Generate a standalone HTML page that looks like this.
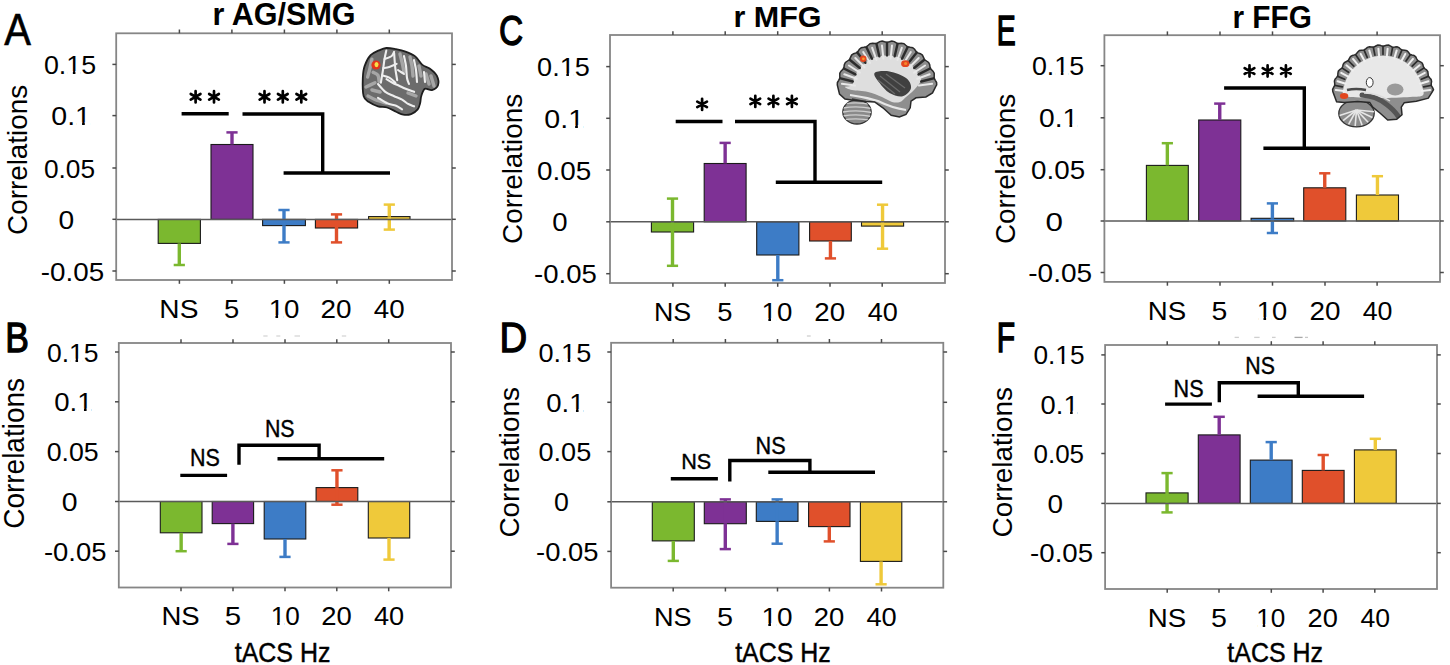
<!DOCTYPE html>
<html><head><meta charset="utf-8"><title>figure</title>
<style>
html,body{margin:0;padding:0;background:#fff;width:1450px;height:665px;overflow:hidden}
svg{display:block}
text{font-family:"Liberation Sans", sans-serif;stroke:#000;stroke-width:0px}
</style></head><body>
<svg width="1450" height="665" viewBox="0 0 1450 665">
<rect width="1450" height="665" fill="#fff"/>
<rect x="158.2" y="219.4" width="42.2" height="24" fill="#7bb82f" stroke="#1a1a1a" stroke-width="1.1"/>
<line x1="179.3" y1="243.4" x2="179.3" y2="265" stroke="#7bb82f" stroke-width="3.4" stroke-linecap="butt"/>
<line x1="173.7" y1="265" x2="184.9" y2="265" stroke="#7bb82f" stroke-width="2.5" stroke-linecap="butt"/>
<rect x="211" y="144.5" width="42" height="74.9" fill="#7e3195" stroke="#1a1a1a" stroke-width="1.1"/>
<line x1="232" y1="144.5" x2="232" y2="132.4" stroke="#7e3195" stroke-width="3.4" stroke-linecap="butt"/>
<line x1="226.4" y1="132.4" x2="237.6" y2="132.4" stroke="#7e3195" stroke-width="2.5" stroke-linecap="butt"/>
<rect x="262.6" y="219.4" width="42.8" height="6.2" fill="#3d7cc6" stroke="#1a1a1a" stroke-width="1.1"/>
<line x1="284" y1="225.6" x2="284" y2="210" stroke="#3d7cc6" stroke-width="3.4" stroke-linecap="butt"/>
<line x1="278.4" y1="210" x2="289.6" y2="210" stroke="#3d7cc6" stroke-width="2.5" stroke-linecap="butt"/>
<line x1="284" y1="225.6" x2="284" y2="242.4" stroke="#3d7cc6" stroke-width="3.4" stroke-linecap="butt"/>
<line x1="278.4" y1="242.4" x2="289.6" y2="242.4" stroke="#3d7cc6" stroke-width="2.5" stroke-linecap="butt"/>
<rect x="315.4" y="219.4" width="42.2" height="8.6" fill="#e0502b" stroke="#1a1a1a" stroke-width="1.1"/>
<line x1="336.5" y1="228" x2="336.5" y2="214.4" stroke="#e0502b" stroke-width="3.4" stroke-linecap="butt"/>
<line x1="330.9" y1="214.4" x2="342.1" y2="214.4" stroke="#e0502b" stroke-width="2.5" stroke-linecap="butt"/>
<line x1="336.5" y1="228" x2="336.5" y2="242.4" stroke="#e0502b" stroke-width="3.4" stroke-linecap="butt"/>
<line x1="330.9" y1="242.4" x2="342.1" y2="242.4" stroke="#e0502b" stroke-width="2.5" stroke-linecap="butt"/>
<rect x="368.6" y="216.6" width="41.4" height="2.8" fill="#efc93a" stroke="#1a1a1a" stroke-width="1.1"/>
<line x1="389.3" y1="216.6" x2="389.3" y2="204.6" stroke="#efc93a" stroke-width="3.4" stroke-linecap="butt"/>
<line x1="383.7" y1="204.6" x2="394.9" y2="204.6" stroke="#efc93a" stroke-width="2.5" stroke-linecap="butt"/>
<line x1="389.3" y1="216.6" x2="389.3" y2="229.6" stroke="#efc93a" stroke-width="3.4" stroke-linecap="butt"/>
<line x1="383.7" y1="229.6" x2="394.9" y2="229.6" stroke="#efc93a" stroke-width="2.5" stroke-linecap="butt"/>
<line x1="116.2" y1="219.4" x2="452" y2="219.4" stroke="#5a5a5a" stroke-width="1.5" stroke-linecap="butt"/>
<rect x="116.2" y="33.3" width="335.8" height="246.7" fill="none" stroke="#868686" stroke-width="1.8"/>
<line x1="179.4" y1="33.3" x2="179.4" y2="29.5" stroke="#4a4a4a" stroke-width="1.5" stroke-linecap="butt"/>
<line x1="179.4" y1="280" x2="179.4" y2="283.8" stroke="#4a4a4a" stroke-width="1.5" stroke-linecap="butt"/>
<line x1="231.9" y1="33.3" x2="231.9" y2="29.5" stroke="#4a4a4a" stroke-width="1.5" stroke-linecap="butt"/>
<line x1="231.9" y1="280" x2="231.9" y2="283.8" stroke="#4a4a4a" stroke-width="1.5" stroke-linecap="butt"/>
<line x1="284.4" y1="33.3" x2="284.4" y2="29.5" stroke="#4a4a4a" stroke-width="1.5" stroke-linecap="butt"/>
<line x1="284.4" y1="280" x2="284.4" y2="283.8" stroke="#4a4a4a" stroke-width="1.5" stroke-linecap="butt"/>
<line x1="336.9" y1="33.3" x2="336.9" y2="29.5" stroke="#4a4a4a" stroke-width="1.5" stroke-linecap="butt"/>
<line x1="336.9" y1="280" x2="336.9" y2="283.8" stroke="#4a4a4a" stroke-width="1.5" stroke-linecap="butt"/>
<line x1="389.3" y1="33.3" x2="389.3" y2="29.5" stroke="#4a4a4a" stroke-width="1.5" stroke-linecap="butt"/>
<line x1="389.3" y1="280" x2="389.3" y2="283.8" stroke="#4a4a4a" stroke-width="1.5" stroke-linecap="butt"/>
<line x1="116.2" y1="64.4" x2="112.4" y2="64.4" stroke="#4a4a4a" stroke-width="1.5" stroke-linecap="butt"/>
<line x1="452" y1="64.4" x2="455.8" y2="64.4" stroke="#4a4a4a" stroke-width="1.5" stroke-linecap="butt"/>
<line x1="116.2" y1="115.6" x2="112.4" y2="115.6" stroke="#4a4a4a" stroke-width="1.5" stroke-linecap="butt"/>
<line x1="452" y1="115.6" x2="455.8" y2="115.6" stroke="#4a4a4a" stroke-width="1.5" stroke-linecap="butt"/>
<line x1="116.2" y1="168" x2="112.4" y2="168" stroke="#4a4a4a" stroke-width="1.5" stroke-linecap="butt"/>
<line x1="452" y1="168" x2="455.8" y2="168" stroke="#4a4a4a" stroke-width="1.5" stroke-linecap="butt"/>
<line x1="116.2" y1="219.3" x2="112.4" y2="219.3" stroke="#4a4a4a" stroke-width="1.5" stroke-linecap="butt"/>
<line x1="452" y1="219.3" x2="455.8" y2="219.3" stroke="#4a4a4a" stroke-width="1.5" stroke-linecap="butt"/>
<line x1="116.2" y1="271" x2="112.4" y2="271" stroke="#4a4a4a" stroke-width="1.5" stroke-linecap="butt"/>
<line x1="452" y1="271" x2="455.8" y2="271" stroke="#4a4a4a" stroke-width="1.5" stroke-linecap="butt"/>
<g transform="translate(43.93,73.94) scale(1.0234,1)"><text font-size="26.2" font-weight="normal" fill="#000">0.15</text><rect x="23.16" y="-2.88" width="5.11" height="3.93" fill="#fff"/><rect x="30.76" y="-2.88" width="4.85" height="3.93" fill="#fff"/></g>
<g transform="translate(51.26,125.14) scale(1.0897,1)"><text font-size="26.2" font-weight="normal" fill="#000">0.1</text><rect x="23.16" y="-2.88" width="5.11" height="3.93" fill="#fff"/><rect x="30.76" y="-2.88" width="4.85" height="3.93" fill="#fff"/></g>
<g transform="translate(43.95,177.54) scale(1.0029,1)"><text font-size="26.2" font-weight="normal" fill="#000">0.05</text></g>
<g transform="translate(58.47,228.84) scale(1.0769,1)"><text font-size="26.2" font-weight="normal" fill="#000">0</text></g>
<g transform="translate(40.75,280.54) scale(1.0608,1)"><text font-size="26.2" font-weight="normal" fill="#000">-0.05</text></g>
<g transform="translate(159.35,318.04) scale(1.0725,1)"><text font-size="26.2" font-weight="normal" fill="#000">NS</text></g>
<g transform="translate(223.91,318.03) scale(1.0300,1)"><text font-size="26.57" font-weight="normal" fill="#000">5</text></g>
<g transform="translate(268.67,318.04) scale(1.0571,1)"><text font-size="26.2" font-weight="normal" fill="#000">10</text><rect x="1.31" y="-2.88" width="5.11" height="3.93" fill="#fff"/><rect x="8.91" y="-2.88" width="4.85" height="3.93" fill="#fff"/></g>
<g transform="translate(320.5,318.04) scale(1.0666,1)"><text font-size="26.2" font-weight="normal" fill="#000">20</text></g>
<g transform="translate(373.81,318.04) scale(1.0593,1)"><text font-size="26.2" font-weight="normal" fill="#000">40</text></g>
<g transform="translate(212.51,25.49) scale(0.9995,1)"><text font-size="30.56" font-weight="bold" fill="#000">r AG/SMG</text></g>
<g transform="translate(4.2,45.3) scale(0.9020,1)"><text font-size="44.35" font-weight="normal" fill="#000" style="stroke-width:0.6px">A</text></g>
<text transform="translate(27.02,234.89) rotate(-90) scale(0.9791,1)" font-size="28.44" font-weight="normal" fill="#000">Correlations</text>
<path d="M195.6,102.4L195.6,91.2M190.75,99.6L200.45,94M200.45,99.6L190.75,94" stroke="#000" stroke-width="2.7" stroke-linecap="round" fill="none"/>
<path d="M214,102.4L214,91.2M209.15,99.6L218.85,94M218.85,99.6L209.15,94" stroke="#000" stroke-width="2.7" stroke-linecap="round" fill="none"/>
<path d="M264.5,102.4L264.5,91.2M259.65,99.6L269.35,94M269.35,99.6L259.65,94" stroke="#000" stroke-width="2.7" stroke-linecap="round" fill="none"/>
<path d="M282.8,102.4L282.8,91.2M277.95,99.6L287.65,94M287.65,99.6L277.95,94" stroke="#000" stroke-width="2.7" stroke-linecap="round" fill="none"/>
<path d="M301.3,102.4L301.3,91.2M296.45,99.6L306.15,94M306.15,99.6L296.45,94" stroke="#000" stroke-width="2.7" stroke-linecap="round" fill="none"/>
<line x1="181.6" y1="113.8" x2="228.7" y2="113.8" stroke="#000" stroke-width="3.4" stroke-linecap="butt"/>
<polyline points="242.5,114 322.7,114 322.7,173" fill="none" stroke="#000" stroke-width="3.4" stroke-linejoin="miter"/>
<line x1="283.6" y1="173" x2="390" y2="173" stroke="#000" stroke-width="3.4" stroke-linecap="butt"/>
<rect x="160.3" y="501.5" width="41.7" height="31.3" fill="#7bb82f" stroke="#1a1a1a" stroke-width="1.1"/>
<line x1="181.15" y1="532.8" x2="181.15" y2="551.2" stroke="#7bb82f" stroke-width="3.4" stroke-linecap="butt"/>
<line x1="175.55" y1="551.2" x2="186.75" y2="551.2" stroke="#7bb82f" stroke-width="2.5" stroke-linecap="butt"/>
<rect x="212.2" y="501.5" width="41.4" height="22.1" fill="#7e3195" stroke="#1a1a1a" stroke-width="1.1"/>
<line x1="232.9" y1="523.6" x2="232.9" y2="543.9" stroke="#7e3195" stroke-width="3.4" stroke-linecap="butt"/>
<line x1="227.3" y1="543.9" x2="238.5" y2="543.9" stroke="#7e3195" stroke-width="2.5" stroke-linecap="butt"/>
<rect x="264.2" y="501.5" width="41.6" height="37.5" fill="#3d7cc6" stroke="#1a1a1a" stroke-width="1.1"/>
<line x1="285" y1="539" x2="285" y2="556.9" stroke="#3d7cc6" stroke-width="3.4" stroke-linecap="butt"/>
<line x1="279.4" y1="556.9" x2="290.6" y2="556.9" stroke="#3d7cc6" stroke-width="2.5" stroke-linecap="butt"/>
<rect x="316.1" y="487.6" width="41.7" height="13.9" fill="#e0502b" stroke="#1a1a1a" stroke-width="1.1"/>
<line x1="336.95" y1="487.6" x2="336.95" y2="470.3" stroke="#e0502b" stroke-width="3.4" stroke-linecap="butt"/>
<line x1="331.35" y1="470.3" x2="342.55" y2="470.3" stroke="#e0502b" stroke-width="2.5" stroke-linecap="butt"/>
<line x1="336.95" y1="487.6" x2="336.95" y2="504.7" stroke="#e0502b" stroke-width="3.4" stroke-linecap="butt"/>
<line x1="331.35" y1="504.7" x2="342.55" y2="504.7" stroke="#e0502b" stroke-width="2.5" stroke-linecap="butt"/>
<rect x="368.3" y="501.5" width="41.4" height="36.5" fill="#efc93a" stroke="#1a1a1a" stroke-width="1.1"/>
<line x1="389" y1="538" x2="389" y2="559.6" stroke="#efc93a" stroke-width="3.4" stroke-linecap="butt"/>
<line x1="383.4" y1="559.6" x2="394.6" y2="559.6" stroke="#efc93a" stroke-width="2.5" stroke-linecap="butt"/>
<line x1="118.8" y1="501.5" x2="451" y2="501.5" stroke="#5a5a5a" stroke-width="1.5" stroke-linecap="butt"/>
<rect x="118.8" y="343" width="332.2" height="244.5" fill="none" stroke="#868686" stroke-width="1.8"/>
<line x1="181" y1="343" x2="181" y2="339.2" stroke="#4a4a4a" stroke-width="1.5" stroke-linecap="butt"/>
<line x1="181" y1="587.5" x2="181" y2="591.3" stroke="#4a4a4a" stroke-width="1.5" stroke-linecap="butt"/>
<line x1="233" y1="343" x2="233" y2="339.2" stroke="#4a4a4a" stroke-width="1.5" stroke-linecap="butt"/>
<line x1="233" y1="587.5" x2="233" y2="591.3" stroke="#4a4a4a" stroke-width="1.5" stroke-linecap="butt"/>
<line x1="285" y1="343" x2="285" y2="339.2" stroke="#4a4a4a" stroke-width="1.5" stroke-linecap="butt"/>
<line x1="285" y1="587.5" x2="285" y2="591.3" stroke="#4a4a4a" stroke-width="1.5" stroke-linecap="butt"/>
<line x1="336.8" y1="343" x2="336.8" y2="339.2" stroke="#4a4a4a" stroke-width="1.5" stroke-linecap="butt"/>
<line x1="336.8" y1="587.5" x2="336.8" y2="591.3" stroke="#4a4a4a" stroke-width="1.5" stroke-linecap="butt"/>
<line x1="388.7" y1="343" x2="388.7" y2="339.2" stroke="#4a4a4a" stroke-width="1.5" stroke-linecap="butt"/>
<line x1="388.7" y1="587.5" x2="388.7" y2="591.3" stroke="#4a4a4a" stroke-width="1.5" stroke-linecap="butt"/>
<line x1="118.8" y1="352" x2="115" y2="352" stroke="#4a4a4a" stroke-width="1.5" stroke-linecap="butt"/>
<line x1="451" y1="352" x2="454.8" y2="352" stroke="#4a4a4a" stroke-width="1.5" stroke-linecap="butt"/>
<line x1="118.8" y1="401.8" x2="115" y2="401.8" stroke="#4a4a4a" stroke-width="1.5" stroke-linecap="butt"/>
<line x1="451" y1="401.8" x2="454.8" y2="401.8" stroke="#4a4a4a" stroke-width="1.5" stroke-linecap="butt"/>
<line x1="118.8" y1="451.6" x2="115" y2="451.6" stroke="#4a4a4a" stroke-width="1.5" stroke-linecap="butt"/>
<line x1="451" y1="451.6" x2="454.8" y2="451.6" stroke="#4a4a4a" stroke-width="1.5" stroke-linecap="butt"/>
<line x1="118.8" y1="501.5" x2="115" y2="501.5" stroke="#4a4a4a" stroke-width="1.5" stroke-linecap="butt"/>
<line x1="451" y1="501.5" x2="454.8" y2="501.5" stroke="#4a4a4a" stroke-width="1.5" stroke-linecap="butt"/>
<line x1="118.8" y1="551.2" x2="115" y2="551.2" stroke="#4a4a4a" stroke-width="1.5" stroke-linecap="butt"/>
<line x1="451" y1="551.2" x2="454.8" y2="551.2" stroke="#4a4a4a" stroke-width="1.5" stroke-linecap="butt"/>
<g transform="translate(46.94,361.54) scale(1.0111,1)"><text font-size="26.2" font-weight="normal" fill="#000">0.15</text><rect x="23.16" y="-2.88" width="5.11" height="3.93" fill="#fff"/><rect x="30.76" y="-2.88" width="4.85" height="3.93" fill="#fff"/></g>
<g transform="translate(54.2,411.34) scale(1.0527,1)"><text font-size="26.2" font-weight="normal" fill="#000">0.1</text><rect x="23.16" y="-2.88" width="5.11" height="3.93" fill="#fff"/><rect x="30.76" y="-2.88" width="4.85" height="3.93" fill="#fff"/></g>
<g transform="translate(46.63,461.14) scale(1.0193,1)"><text font-size="26.2" font-weight="normal" fill="#000">0.05</text></g>
<g transform="translate(61.86,511.04) scale(1.0849,1)"><text font-size="26.2" font-weight="normal" fill="#000">0</text></g>
<g transform="translate(43.97,560.74) scale(1.0469,1)"><text font-size="26.2" font-weight="normal" fill="#000">-0.05</text></g>
<g transform="translate(161.4,625.24) scale(1.0512,1)"><text font-size="26.2" font-weight="normal" fill="#000">NS</text></g>
<g transform="translate(224.82,625.23) scale(1.1092,1)"><text font-size="26.57" font-weight="normal" fill="#000">5</text></g>
<g transform="translate(270.72,625.24) scale(0.9983,1)"><text font-size="26.2" font-weight="normal" fill="#000">10</text><rect x="1.31" y="-2.88" width="5.11" height="3.93" fill="#fff"/><rect x="8.91" y="-2.88" width="4.85" height="3.93" fill="#fff"/></g>
<g transform="translate(321.13,625.24) scale(1.0479,1)"><text font-size="26.2" font-weight="normal" fill="#000">20</text></g>
<g transform="translate(373.92,625.24) scale(1.0374,1)"><text font-size="26.2" font-weight="normal" fill="#000">40</text></g>
<g transform="translate(5.21,351.55) scale(0.8307,1)"><text font-size="42.75" font-weight="normal" fill="#000" style="stroke-width:1.3px">B</text></g>
<text transform="translate(24.11,528.7) rotate(-90) scale(0.9784,1)" font-size="28.57" font-weight="normal" fill="#000">Correlations</text>
<g transform="translate(189.88,465.87) scale(0.9199,1)"><text font-size="23.38" font-weight="normal" fill="#000" style="stroke-width:0.4px">NS</text></g>
<g transform="translate(264.89,437.37) scale(0.9131,1)"><text font-size="23.38" font-weight="normal" fill="#000" style="stroke-width:0.4px">NS</text></g>
<g transform="translate(234.75,661.9) scale(0.9107,1)"><text font-size="27.39" font-weight="normal" fill="#000" style="stroke-width:0.45px">tACS Hz</text></g>
<line x1="180.3" y1="475.4" x2="227.1" y2="475.4" stroke="#000" stroke-width="3.4" stroke-linecap="butt"/>
<polyline points="239,464.7 239,445.2 319.1,445.2 319.1,458" fill="none" stroke="#000" stroke-width="3.4" stroke-linejoin="miter"/>
<line x1="277.5" y1="458.7" x2="384.2" y2="458.7" stroke="#000" stroke-width="3.4" stroke-linecap="butt"/>
<rect x="651.4" y="221.8" width="42.2" height="10.2" fill="#7bb82f" stroke="#1a1a1a" stroke-width="1.1"/>
<line x1="672.5" y1="232" x2="672.5" y2="198.6" stroke="#7bb82f" stroke-width="3.4" stroke-linecap="butt"/>
<line x1="666.9" y1="198.6" x2="678.1" y2="198.6" stroke="#7bb82f" stroke-width="2.5" stroke-linecap="butt"/>
<line x1="672.5" y1="232" x2="672.5" y2="265.8" stroke="#7bb82f" stroke-width="3.4" stroke-linecap="butt"/>
<line x1="666.9" y1="265.8" x2="678.1" y2="265.8" stroke="#7bb82f" stroke-width="2.5" stroke-linecap="butt"/>
<rect x="704.2" y="163.5" width="41.9" height="58.3" fill="#7e3195" stroke="#1a1a1a" stroke-width="1.1"/>
<line x1="725.15" y1="163.5" x2="725.15" y2="142.9" stroke="#7e3195" stroke-width="3.4" stroke-linecap="butt"/>
<line x1="719.55" y1="142.9" x2="730.75" y2="142.9" stroke="#7e3195" stroke-width="2.5" stroke-linecap="butt"/>
<rect x="756.7" y="221.8" width="42.2" height="33.2" fill="#3d7cc6" stroke="#1a1a1a" stroke-width="1.1"/>
<line x1="777.8" y1="255" x2="777.8" y2="280.2" stroke="#3d7cc6" stroke-width="3.4" stroke-linecap="butt"/>
<line x1="772.2" y1="280.2" x2="783.4" y2="280.2" stroke="#3d7cc6" stroke-width="2.5" stroke-linecap="butt"/>
<rect x="809.6" y="221.8" width="41.7" height="19.2" fill="#e0502b" stroke="#1a1a1a" stroke-width="1.1"/>
<line x1="830.45" y1="241" x2="830.45" y2="258.4" stroke="#e0502b" stroke-width="3.4" stroke-linecap="butt"/>
<line x1="824.85" y1="258.4" x2="836.05" y2="258.4" stroke="#e0502b" stroke-width="2.5" stroke-linecap="butt"/>
<rect x="861.5" y="221.8" width="42.1" height="4.3" fill="#efc93a" stroke="#1a1a1a" stroke-width="1.1"/>
<line x1="882.55" y1="226.1" x2="882.55" y2="204.7" stroke="#efc93a" stroke-width="3.4" stroke-linecap="butt"/>
<line x1="876.95" y1="204.7" x2="888.15" y2="204.7" stroke="#efc93a" stroke-width="2.5" stroke-linecap="butt"/>
<line x1="882.55" y1="226.1" x2="882.55" y2="248.7" stroke="#efc93a" stroke-width="3.4" stroke-linecap="butt"/>
<line x1="876.95" y1="248.7" x2="888.15" y2="248.7" stroke="#efc93a" stroke-width="2.5" stroke-linecap="butt"/>
<line x1="610" y1="221.8" x2="945" y2="221.8" stroke="#5a5a5a" stroke-width="1.5" stroke-linecap="butt"/>
<rect x="610" y="35" width="335" height="248" fill="none" stroke="#868686" stroke-width="1.8"/>
<line x1="672.9" y1="35" x2="672.9" y2="31.2" stroke="#4a4a4a" stroke-width="1.5" stroke-linecap="butt"/>
<line x1="672.9" y1="283" x2="672.9" y2="286.8" stroke="#4a4a4a" stroke-width="1.5" stroke-linecap="butt"/>
<line x1="725.2" y1="35" x2="725.2" y2="31.2" stroke="#4a4a4a" stroke-width="1.5" stroke-linecap="butt"/>
<line x1="725.2" y1="283" x2="725.2" y2="286.8" stroke="#4a4a4a" stroke-width="1.5" stroke-linecap="butt"/>
<line x1="777.7" y1="35" x2="777.7" y2="31.2" stroke="#4a4a4a" stroke-width="1.5" stroke-linecap="butt"/>
<line x1="777.7" y1="283" x2="777.7" y2="286.8" stroke="#4a4a4a" stroke-width="1.5" stroke-linecap="butt"/>
<line x1="830" y1="35" x2="830" y2="31.2" stroke="#4a4a4a" stroke-width="1.5" stroke-linecap="butt"/>
<line x1="830" y1="283" x2="830" y2="286.8" stroke="#4a4a4a" stroke-width="1.5" stroke-linecap="butt"/>
<line x1="882.2" y1="35" x2="882.2" y2="31.2" stroke="#4a4a4a" stroke-width="1.5" stroke-linecap="butt"/>
<line x1="882.2" y1="283" x2="882.2" y2="286.8" stroke="#4a4a4a" stroke-width="1.5" stroke-linecap="butt"/>
<line x1="610" y1="66.6" x2="606.2" y2="66.6" stroke="#4a4a4a" stroke-width="1.5" stroke-linecap="butt"/>
<line x1="945" y1="66.6" x2="948.8" y2="66.6" stroke="#4a4a4a" stroke-width="1.5" stroke-linecap="butt"/>
<line x1="610" y1="118.3" x2="606.2" y2="118.3" stroke="#4a4a4a" stroke-width="1.5" stroke-linecap="butt"/>
<line x1="945" y1="118.3" x2="948.8" y2="118.3" stroke="#4a4a4a" stroke-width="1.5" stroke-linecap="butt"/>
<line x1="610" y1="170" x2="606.2" y2="170" stroke="#4a4a4a" stroke-width="1.5" stroke-linecap="butt"/>
<line x1="945" y1="170" x2="948.8" y2="170" stroke="#4a4a4a" stroke-width="1.5" stroke-linecap="butt"/>
<line x1="610" y1="221.8" x2="606.2" y2="221.8" stroke="#4a4a4a" stroke-width="1.5" stroke-linecap="butt"/>
<line x1="945" y1="221.8" x2="948.8" y2="221.8" stroke="#4a4a4a" stroke-width="1.5" stroke-linecap="butt"/>
<line x1="610" y1="273.7" x2="606.2" y2="273.7" stroke="#4a4a4a" stroke-width="1.5" stroke-linecap="butt"/>
<line x1="945" y1="273.7" x2="948.8" y2="273.7" stroke="#4a4a4a" stroke-width="1.5" stroke-linecap="butt"/>
<g transform="translate(537.12,76.14) scale(1.0336,1)"><text font-size="26.2" font-weight="normal" fill="#000">0.15</text><rect x="23.16" y="-2.88" width="5.11" height="3.93" fill="#fff"/><rect x="30.76" y="-2.88" width="4.85" height="3.93" fill="#fff"/></g>
<g transform="translate(544.25,127.84) scale(1.0930,1)"><text font-size="26.2" font-weight="normal" fill="#000">0.1</text><rect x="23.16" y="-2.88" width="5.11" height="3.93" fill="#fff"/><rect x="30.76" y="-2.88" width="4.85" height="3.93" fill="#fff"/></g>
<g transform="translate(536.88,179.54) scale(1.0643,1)"><text font-size="26.2" font-weight="normal" fill="#000">0.05</text></g>
<g transform="translate(552.2,231.34) scale(1.0527,1)"><text font-size="26.2" font-weight="normal" fill="#000">0</text></g>
<g transform="translate(534.06,283.24) scale(1.0521,1)"><text font-size="26.2" font-weight="normal" fill="#000">-0.05</text></g>
<g transform="translate(653.95,321.04) scale(1.0240,1)"><text font-size="26.2" font-weight="normal" fill="#000">NS</text></g>
<g transform="translate(717.31,321.03) scale(1.0300,1)"><text font-size="26.57" font-weight="normal" fill="#000">5</text></g>
<g transform="translate(761.57,321.04) scale(1.0571,1)"><text font-size="26.2" font-weight="normal" fill="#000">10</text><rect x="1.31" y="-2.88" width="5.11" height="3.93" fill="#fff"/><rect x="8.91" y="-2.88" width="4.85" height="3.93" fill="#fff"/></g>
<g transform="translate(814.32,321.04) scale(1.0553,1)"><text font-size="26.2" font-weight="normal" fill="#000">20</text></g>
<g transform="translate(867.82,321.04) scale(1.0338,1)"><text font-size="26.2" font-weight="normal" fill="#000">40</text></g>
<g transform="translate(733.42,27.3) scale(1.0122,1)"><text font-size="30.14" font-weight="bold" fill="#000">r MFG</text></g>
<g transform="translate(498.98,44.82) scale(0.7771,1)"><text font-size="43.1" font-weight="normal" fill="#000" style="stroke-width:1.3px">C</text></g>
<text transform="translate(521.82,243.89) rotate(-90) scale(0.9785,1)" font-size="28.44" font-weight="normal" fill="#000">Correlations</text>
<path d="M702.1,110L702.1,98.8M697.25,107.2L706.95,101.6M706.95,107.2L697.25,101.6" stroke="#000" stroke-width="2.7" stroke-linecap="round" fill="none"/>
<path d="M755.3,107L755.3,95.8M750.45,104.2L760.15,98.6M760.15,104.2L750.45,98.6" stroke="#000" stroke-width="2.7" stroke-linecap="round" fill="none"/>
<path d="M773.4,107L773.4,95.8M768.55,104.2L778.25,98.6M778.25,104.2L768.55,98.6" stroke="#000" stroke-width="2.7" stroke-linecap="round" fill="none"/>
<path d="M791.9,107L791.9,95.8M787.05,104.2L796.75,98.6M796.75,104.2L787.05,98.6" stroke="#000" stroke-width="2.7" stroke-linecap="round" fill="none"/>
<line x1="675.7" y1="121.5" x2="722.5" y2="121.5" stroke="#000" stroke-width="3.4" stroke-linecap="butt"/>
<polyline points="735,121.5 815,121.5 815,182.2" fill="none" stroke="#000" stroke-width="3.4" stroke-linejoin="miter"/>
<line x1="775.8" y1="182.2" x2="882.2" y2="182.2" stroke="#000" stroke-width="3.4" stroke-linecap="butt"/>
<rect x="652.3" y="501.8" width="42" height="39.1" fill="#7bb82f" stroke="#1a1a1a" stroke-width="1.1"/>
<line x1="673.3" y1="540.9" x2="673.3" y2="560.9" stroke="#7bb82f" stroke-width="3.4" stroke-linecap="butt"/>
<line x1="667.7" y1="560.9" x2="678.9" y2="560.9" stroke="#7bb82f" stroke-width="2.5" stroke-linecap="butt"/>
<rect x="704.3" y="501.8" width="42" height="21.9" fill="#7e3195" stroke="#1a1a1a" stroke-width="1.1"/>
<line x1="725.3" y1="523.7" x2="725.3" y2="549.1" stroke="#7e3195" stroke-width="3.4" stroke-linecap="butt"/>
<line x1="719.7" y1="549.1" x2="730.9" y2="549.1" stroke="#7e3195" stroke-width="2.5" stroke-linecap="butt"/>
<line x1="725.3" y1="523.7" x2="725.3" y2="499.4" stroke="#7e3195" stroke-width="3.4" stroke-linecap="butt"/>
<line x1="719.7" y1="499.4" x2="730.9" y2="499.4" stroke="#7e3195" stroke-width="2.5" stroke-linecap="butt"/>
<rect x="756.3" y="501.8" width="41.7" height="19.6" fill="#3d7cc6" stroke="#1a1a1a" stroke-width="1.1"/>
<line x1="777.15" y1="521.4" x2="777.15" y2="543.7" stroke="#3d7cc6" stroke-width="3.4" stroke-linecap="butt"/>
<line x1="771.55" y1="543.7" x2="782.75" y2="543.7" stroke="#3d7cc6" stroke-width="2.5" stroke-linecap="butt"/>
<line x1="777.15" y1="521.4" x2="777.15" y2="499.4" stroke="#3d7cc6" stroke-width="3.4" stroke-linecap="butt"/>
<line x1="771.55" y1="499.4" x2="782.75" y2="499.4" stroke="#3d7cc6" stroke-width="2.5" stroke-linecap="butt"/>
<rect x="808.6" y="501.8" width="41.4" height="24.8" fill="#e0502b" stroke="#1a1a1a" stroke-width="1.1"/>
<line x1="829.3" y1="526.6" x2="829.3" y2="541.4" stroke="#e0502b" stroke-width="3.4" stroke-linecap="butt"/>
<line x1="823.7" y1="541.4" x2="834.9" y2="541.4" stroke="#e0502b" stroke-width="2.5" stroke-linecap="butt"/>
<rect x="860.4" y="501.8" width="41.4" height="59.6" fill="#efc93a" stroke="#1a1a1a" stroke-width="1.1"/>
<line x1="881.1" y1="561.4" x2="881.1" y2="584.3" stroke="#efc93a" stroke-width="3.4" stroke-linecap="butt"/>
<line x1="875.5" y1="584.3" x2="886.7" y2="584.3" stroke="#efc93a" stroke-width="2.5" stroke-linecap="butt"/>
<line x1="611.1" y1="501.8" x2="943.3" y2="501.8" stroke="#5a5a5a" stroke-width="1.5" stroke-linecap="butt"/>
<rect x="611.1" y="342.8" width="332.2" height="244.9" fill="none" stroke="#868686" stroke-width="1.8"/>
<line x1="673.2" y1="342.8" x2="673.2" y2="339" stroke="#4a4a4a" stroke-width="1.5" stroke-linecap="butt"/>
<line x1="673.2" y1="587.7" x2="673.2" y2="591.5" stroke="#4a4a4a" stroke-width="1.5" stroke-linecap="butt"/>
<line x1="725.4" y1="342.8" x2="725.4" y2="339" stroke="#4a4a4a" stroke-width="1.5" stroke-linecap="butt"/>
<line x1="725.4" y1="587.7" x2="725.4" y2="591.5" stroke="#4a4a4a" stroke-width="1.5" stroke-linecap="butt"/>
<line x1="777.5" y1="342.8" x2="777.5" y2="339" stroke="#4a4a4a" stroke-width="1.5" stroke-linecap="butt"/>
<line x1="777.5" y1="587.7" x2="777.5" y2="591.5" stroke="#4a4a4a" stroke-width="1.5" stroke-linecap="butt"/>
<line x1="829.4" y1="342.8" x2="829.4" y2="339" stroke="#4a4a4a" stroke-width="1.5" stroke-linecap="butt"/>
<line x1="829.4" y1="587.7" x2="829.4" y2="591.5" stroke="#4a4a4a" stroke-width="1.5" stroke-linecap="butt"/>
<line x1="881.5" y1="342.8" x2="881.5" y2="339" stroke="#4a4a4a" stroke-width="1.5" stroke-linecap="butt"/>
<line x1="881.5" y1="587.7" x2="881.5" y2="591.5" stroke="#4a4a4a" stroke-width="1.5" stroke-linecap="butt"/>
<line x1="611.1" y1="352" x2="607.3" y2="352" stroke="#4a4a4a" stroke-width="1.5" stroke-linecap="butt"/>
<line x1="943.3" y1="352" x2="947.1" y2="352" stroke="#4a4a4a" stroke-width="1.5" stroke-linecap="butt"/>
<line x1="611.1" y1="402.3" x2="607.3" y2="402.3" stroke="#4a4a4a" stroke-width="1.5" stroke-linecap="butt"/>
<line x1="943.3" y1="402.3" x2="947.1" y2="402.3" stroke="#4a4a4a" stroke-width="1.5" stroke-linecap="butt"/>
<line x1="611.1" y1="451.6" x2="607.3" y2="451.6" stroke="#4a4a4a" stroke-width="1.5" stroke-linecap="butt"/>
<line x1="943.3" y1="451.6" x2="947.1" y2="451.6" stroke="#4a4a4a" stroke-width="1.5" stroke-linecap="butt"/>
<line x1="611.1" y1="501.8" x2="607.3" y2="501.8" stroke="#4a4a4a" stroke-width="1.5" stroke-linecap="butt"/>
<line x1="943.3" y1="501.8" x2="947.1" y2="501.8" stroke="#4a4a4a" stroke-width="1.5" stroke-linecap="butt"/>
<line x1="611.1" y1="551.4" x2="607.3" y2="551.4" stroke="#4a4a4a" stroke-width="1.5" stroke-linecap="butt"/>
<line x1="943.3" y1="551.4" x2="947.1" y2="551.4" stroke="#4a4a4a" stroke-width="1.5" stroke-linecap="butt"/>
<g transform="translate(538.52,361.54) scale(1.0336,1)"><text font-size="26.2" font-weight="normal" fill="#000">0.15</text><rect x="23.16" y="-2.88" width="5.11" height="3.93" fill="#fff"/><rect x="30.76" y="-2.88" width="4.85" height="3.93" fill="#fff"/></g>
<g transform="translate(546.2,411.84) scale(1.0527,1)"><text font-size="26.2" font-weight="normal" fill="#000">0.1</text><rect x="23.16" y="-2.88" width="5.11" height="3.93" fill="#fff"/><rect x="30.76" y="-2.88" width="4.85" height="3.93" fill="#fff"/></g>
<g transform="translate(538.52,461.14) scale(1.0336,1)"><text font-size="26.2" font-weight="normal" fill="#000">0.05</text></g>
<g transform="translate(554.03,511.34) scale(1.0206,1)"><text font-size="26.2" font-weight="normal" fill="#000">0</text></g>
<g transform="translate(536.07,560.94) scale(1.0452,1)"><text font-size="26.2" font-weight="normal" fill="#000">-0.05</text></g>
<g transform="translate(653.93,625.84) scale(1.0361,1)"><text font-size="26.2" font-weight="normal" fill="#000">NS</text></g>
<g transform="translate(716.95,625.83) scale(1.0855,1)"><text font-size="26.57" font-weight="normal" fill="#000">5</text></g>
<g transform="translate(761.44,625.84) scale(1.0688,1)"><text font-size="26.2" font-weight="normal" fill="#000">10</text><rect x="1.31" y="-2.88" width="5.11" height="3.93" fill="#fff"/><rect x="8.91" y="-2.88" width="4.85" height="3.93" fill="#fff"/></g>
<g transform="translate(813.63,625.84) scale(1.0479,1)"><text font-size="26.2" font-weight="normal" fill="#000">20</text></g>
<g transform="translate(866.42,625.84) scale(1.0411,1)"><text font-size="26.2" font-weight="normal" fill="#000">40</text></g>
<g transform="translate(499.38,351.55) scale(0.8963,1)"><text font-size="42.75" font-weight="normal" fill="#000" style="stroke-width:1.3px">D</text></g>
<text transform="translate(518.61,537.6) rotate(-90) scale(0.9778,1)" font-size="28.57" font-weight="normal" fill="#000">Correlations</text>
<g transform="translate(681.17,468.77) scale(0.9438,1)"><text font-size="22.96" font-weight="normal" fill="#000" style="stroke-width:0.4px">NS</text></g>
<g transform="translate(755.57,453.67) scale(0.9267,1)"><text font-size="23.38" font-weight="normal" fill="#000" style="stroke-width:0.4px">NS</text></g>
<g transform="translate(735.15,661.9) scale(0.9107,1)"><text font-size="27.39" font-weight="normal" fill="#000" style="stroke-width:0.45px">tACS Hz</text></g>
<line x1="670.8" y1="478.7" x2="717.9" y2="478.7" stroke="#000" stroke-width="3.4" stroke-linecap="butt"/>
<polyline points="729.8,481.5 729.8,460.5 809.9,460.5 809.9,471.5" fill="none" stroke="#000" stroke-width="3.4" stroke-linejoin="miter"/>
<line x1="768.3" y1="472.3" x2="875" y2="472.3" stroke="#000" stroke-width="3.4" stroke-linecap="butt"/>
<rect x="1146.4" y="165.4" width="41.9" height="55.6" fill="#7bb82f" stroke="#1a1a1a" stroke-width="1.1"/>
<line x1="1167.35" y1="165.4" x2="1167.35" y2="143.2" stroke="#7bb82f" stroke-width="3.4" stroke-linecap="butt"/>
<line x1="1161.75" y1="143.2" x2="1172.95" y2="143.2" stroke="#7bb82f" stroke-width="2.5" stroke-linecap="butt"/>
<rect x="1198.7" y="120" width="42.1" height="101" fill="#7e3195" stroke="#1a1a1a" stroke-width="1.1"/>
<line x1="1219.75" y1="120" x2="1219.75" y2="103.6" stroke="#7e3195" stroke-width="3.4" stroke-linecap="butt"/>
<line x1="1214.15" y1="103.6" x2="1225.35" y2="103.6" stroke="#7e3195" stroke-width="2.5" stroke-linecap="butt"/>
<rect x="1251.1" y="218.3" width="42.6" height="2.7" fill="#3d7cc6" stroke="#1a1a1a" stroke-width="1.1"/>
<line x1="1272.4" y1="218.3" x2="1272.4" y2="203.4" stroke="#3d7cc6" stroke-width="3.4" stroke-linecap="butt"/>
<line x1="1266.8" y1="203.4" x2="1278" y2="203.4" stroke="#3d7cc6" stroke-width="2.5" stroke-linecap="butt"/>
<line x1="1272.4" y1="218.3" x2="1272.4" y2="233" stroke="#3d7cc6" stroke-width="3.4" stroke-linecap="butt"/>
<line x1="1266.8" y1="233" x2="1278" y2="233" stroke="#3d7cc6" stroke-width="2.5" stroke-linecap="butt"/>
<rect x="1303.7" y="187.8" width="42.1" height="33.2" fill="#e0502b" stroke="#1a1a1a" stroke-width="1.1"/>
<line x1="1324.75" y1="187.8" x2="1324.75" y2="173.3" stroke="#e0502b" stroke-width="3.4" stroke-linecap="butt"/>
<line x1="1319.15" y1="173.3" x2="1330.35" y2="173.3" stroke="#e0502b" stroke-width="2.5" stroke-linecap="butt"/>
<rect x="1356.4" y="195" width="42.1" height="26" fill="#efc93a" stroke="#1a1a1a" stroke-width="1.1"/>
<line x1="1377.45" y1="195" x2="1377.45" y2="176.2" stroke="#efc93a" stroke-width="3.4" stroke-linecap="butt"/>
<line x1="1371.85" y1="176.2" x2="1383.05" y2="176.2" stroke="#efc93a" stroke-width="2.5" stroke-linecap="butt"/>
<line x1="1104.4" y1="221" x2="1440" y2="221" stroke="#5a5a5a" stroke-width="1.5" stroke-linecap="butt"/>
<rect x="1104.4" y="35.2" width="335.6" height="246.7" fill="none" stroke="#868686" stroke-width="1.8"/>
<line x1="1167.4" y1="35.2" x2="1167.4" y2="31.4" stroke="#4a4a4a" stroke-width="1.5" stroke-linecap="butt"/>
<line x1="1167.4" y1="281.9" x2="1167.4" y2="285.7" stroke="#4a4a4a" stroke-width="1.5" stroke-linecap="butt"/>
<line x1="1220" y1="35.2" x2="1220" y2="31.4" stroke="#4a4a4a" stroke-width="1.5" stroke-linecap="butt"/>
<line x1="1220" y1="281.9" x2="1220" y2="285.7" stroke="#4a4a4a" stroke-width="1.5" stroke-linecap="butt"/>
<line x1="1272.5" y1="35.2" x2="1272.5" y2="31.4" stroke="#4a4a4a" stroke-width="1.5" stroke-linecap="butt"/>
<line x1="1272.5" y1="281.9" x2="1272.5" y2="285.7" stroke="#4a4a4a" stroke-width="1.5" stroke-linecap="butt"/>
<line x1="1325" y1="35.2" x2="1325" y2="31.4" stroke="#4a4a4a" stroke-width="1.5" stroke-linecap="butt"/>
<line x1="1325" y1="281.9" x2="1325" y2="285.7" stroke="#4a4a4a" stroke-width="1.5" stroke-linecap="butt"/>
<line x1="1377.1" y1="35.2" x2="1377.1" y2="31.4" stroke="#4a4a4a" stroke-width="1.5" stroke-linecap="butt"/>
<line x1="1377.1" y1="281.9" x2="1377.1" y2="285.7" stroke="#4a4a4a" stroke-width="1.5" stroke-linecap="butt"/>
<line x1="1104.4" y1="65.7" x2="1100.6" y2="65.7" stroke="#4a4a4a" stroke-width="1.5" stroke-linecap="butt"/>
<line x1="1440" y1="65.7" x2="1443.8" y2="65.7" stroke="#4a4a4a" stroke-width="1.5" stroke-linecap="butt"/>
<line x1="1104.4" y1="117.8" x2="1100.6" y2="117.8" stroke="#4a4a4a" stroke-width="1.5" stroke-linecap="butt"/>
<line x1="1440" y1="117.8" x2="1443.8" y2="117.8" stroke="#4a4a4a" stroke-width="1.5" stroke-linecap="butt"/>
<line x1="1104.4" y1="169.7" x2="1100.6" y2="169.7" stroke="#4a4a4a" stroke-width="1.5" stroke-linecap="butt"/>
<line x1="1440" y1="169.7" x2="1443.8" y2="169.7" stroke="#4a4a4a" stroke-width="1.5" stroke-linecap="butt"/>
<line x1="1104.4" y1="221" x2="1100.6" y2="221" stroke="#4a4a4a" stroke-width="1.5" stroke-linecap="butt"/>
<line x1="1440" y1="221" x2="1443.8" y2="221" stroke="#4a4a4a" stroke-width="1.5" stroke-linecap="butt"/>
<line x1="1104.4" y1="272.5" x2="1100.6" y2="272.5" stroke="#4a4a4a" stroke-width="1.5" stroke-linecap="butt"/>
<line x1="1440" y1="272.5" x2="1443.8" y2="272.5" stroke="#4a4a4a" stroke-width="1.5" stroke-linecap="butt"/>
<g transform="translate(1031.93,75.24) scale(1.0234,1)"><text font-size="26.2" font-weight="normal" fill="#000">0.15</text><rect x="23.16" y="-2.88" width="5.11" height="3.93" fill="#fff"/><rect x="30.76" y="-2.88" width="4.85" height="3.93" fill="#fff"/></g>
<g transform="translate(1039.07,127.34) scale(1.0762,1)"><text font-size="26.2" font-weight="normal" fill="#000">0.1</text><rect x="23.16" y="-2.88" width="5.11" height="3.93" fill="#fff"/><rect x="30.76" y="-2.88" width="4.85" height="3.93" fill="#fff"/></g>
<g transform="translate(1031.09,179.24) scale(1.0602,1)"><text font-size="26.2" font-weight="normal" fill="#000">0.05</text></g>
<g transform="translate(1045.45,230.54) scale(1.1974,1)"><text font-size="26.2" font-weight="normal" fill="#000">0</text></g>
<g transform="translate(1028.24,282.04) scale(1.0695,1)"><text font-size="26.2" font-weight="normal" fill="#000">-0.05</text></g>
<g transform="translate(1147.69,319.94) scale(1.0543,1)"><text font-size="26.2" font-weight="normal" fill="#000">NS</text></g>
<g transform="translate(1211.56,319.93) scale(1.0696,1)"><text font-size="26.57" font-weight="normal" fill="#000">5</text></g>
<g transform="translate(1256.81,319.94) scale(1.0414,1)"><text font-size="26.2" font-weight="normal" fill="#000">10</text><rect x="1.31" y="-2.88" width="5.11" height="3.93" fill="#fff"/><rect x="8.91" y="-2.88" width="4.85" height="3.93" fill="#fff"/></g>
<g transform="translate(1309.41,319.94) scale(1.0628,1)"><text font-size="26.2" font-weight="normal" fill="#000">20</text></g>
<g transform="translate(1362.63,319.94) scale(1.0228,1)"><text font-size="26.2" font-weight="normal" fill="#000">40</text></g>
<g transform="translate(1232.47,27.59) scale(0.9738,1)"><text font-size="30.56" font-weight="bold" fill="#000">r FFG</text></g>
<g transform="translate(996.77,44.65) scale(0.6630,1)"><text font-size="42.9" font-weight="normal" fill="#000" style="stroke-width:1.5px">E</text></g>
<text transform="translate(1015.23,243.99) rotate(-90) scale(1.0131,1)" font-size="27.48" font-weight="normal" fill="#000">Correlations</text>
<path d="M1249.5,76.6L1249.5,65.4M1244.65,73.8L1254.35,68.2M1254.35,73.8L1244.65,68.2" stroke="#000" stroke-width="2.7" stroke-linecap="round" fill="none"/>
<path d="M1267.6,76.6L1267.6,65.4M1262.75,73.8L1272.45,68.2M1272.45,73.8L1262.75,68.2" stroke="#000" stroke-width="2.7" stroke-linecap="round" fill="none"/>
<path d="M1285.9,76.6L1285.9,65.4M1281.05,73.8L1290.75,68.2M1290.75,73.8L1281.05,68.2" stroke="#000" stroke-width="2.7" stroke-linecap="round" fill="none"/>
<polyline points="1224.1,88 1304.3,88 1304.3,148.3" fill="none" stroke="#000" stroke-width="3.4" stroke-linejoin="miter"/>
<line x1="1263.4" y1="148.3" x2="1370" y2="148.3" stroke="#000" stroke-width="3.4" stroke-linecap="butt"/>
<rect x="1146" y="492.9" width="42.1" height="10.5" fill="#7bb82f" stroke="#1a1a1a" stroke-width="1.1"/>
<line x1="1167.05" y1="492.9" x2="1167.05" y2="473.1" stroke="#7bb82f" stroke-width="3.4" stroke-linecap="butt"/>
<line x1="1161.45" y1="473.1" x2="1172.65" y2="473.1" stroke="#7bb82f" stroke-width="2.5" stroke-linecap="butt"/>
<line x1="1167.05" y1="492.9" x2="1167.05" y2="512.4" stroke="#7bb82f" stroke-width="3.4" stroke-linecap="butt"/>
<line x1="1161.45" y1="512.4" x2="1172.65" y2="512.4" stroke="#7bb82f" stroke-width="2.5" stroke-linecap="butt"/>
<rect x="1198.3" y="434.9" width="41.8" height="68.5" fill="#7e3195" stroke="#1a1a1a" stroke-width="1.1"/>
<line x1="1219.2" y1="434.9" x2="1219.2" y2="416.8" stroke="#7e3195" stroke-width="3.4" stroke-linecap="butt"/>
<line x1="1213.6" y1="416.8" x2="1224.8" y2="416.8" stroke="#7e3195" stroke-width="2.5" stroke-linecap="butt"/>
<rect x="1250.3" y="460.1" width="41.8" height="43.3" fill="#3d7cc6" stroke="#1a1a1a" stroke-width="1.1"/>
<line x1="1271.2" y1="460.1" x2="1271.2" y2="442.1" stroke="#3d7cc6" stroke-width="3.4" stroke-linecap="butt"/>
<line x1="1265.6" y1="442.1" x2="1276.8" y2="442.1" stroke="#3d7cc6" stroke-width="2.5" stroke-linecap="butt"/>
<rect x="1302.3" y="470.4" width="41.8" height="33" fill="#e0502b" stroke="#1a1a1a" stroke-width="1.1"/>
<line x1="1323.2" y1="470.4" x2="1323.2" y2="455" stroke="#e0502b" stroke-width="3.4" stroke-linecap="butt"/>
<line x1="1317.6" y1="455" x2="1328.8" y2="455" stroke="#e0502b" stroke-width="2.5" stroke-linecap="butt"/>
<rect x="1354.4" y="449.9" width="41.8" height="53.5" fill="#efc93a" stroke="#1a1a1a" stroke-width="1.1"/>
<line x1="1375.3" y1="449.9" x2="1375.3" y2="438.8" stroke="#efc93a" stroke-width="3.4" stroke-linecap="butt"/>
<line x1="1369.7" y1="438.8" x2="1380.9" y2="438.8" stroke="#efc93a" stroke-width="2.5" stroke-linecap="butt"/>
<line x1="1105.1" y1="503.4" x2="1437" y2="503.4" stroke="#5a5a5a" stroke-width="1.5" stroke-linecap="butt"/>
<rect x="1105.1" y="345" width="331.9" height="244" fill="none" stroke="#868686" stroke-width="1.8"/>
<line x1="1167.2" y1="345" x2="1167.2" y2="341.2" stroke="#4a4a4a" stroke-width="1.5" stroke-linecap="butt"/>
<line x1="1167.2" y1="589" x2="1167.2" y2="592.8" stroke="#4a4a4a" stroke-width="1.5" stroke-linecap="butt"/>
<line x1="1219" y1="345" x2="1219" y2="341.2" stroke="#4a4a4a" stroke-width="1.5" stroke-linecap="butt"/>
<line x1="1219" y1="589" x2="1219" y2="592.8" stroke="#4a4a4a" stroke-width="1.5" stroke-linecap="butt"/>
<line x1="1271.3" y1="345" x2="1271.3" y2="341.2" stroke="#4a4a4a" stroke-width="1.5" stroke-linecap="butt"/>
<line x1="1271.3" y1="589" x2="1271.3" y2="592.8" stroke="#4a4a4a" stroke-width="1.5" stroke-linecap="butt"/>
<line x1="1323.1" y1="345" x2="1323.1" y2="341.2" stroke="#4a4a4a" stroke-width="1.5" stroke-linecap="butt"/>
<line x1="1323.1" y1="589" x2="1323.1" y2="592.8" stroke="#4a4a4a" stroke-width="1.5" stroke-linecap="butt"/>
<line x1="1374.8" y1="345" x2="1374.8" y2="341.2" stroke="#4a4a4a" stroke-width="1.5" stroke-linecap="butt"/>
<line x1="1374.8" y1="589" x2="1374.8" y2="592.8" stroke="#4a4a4a" stroke-width="1.5" stroke-linecap="butt"/>
<line x1="1105.1" y1="354.9" x2="1101.3" y2="354.9" stroke="#4a4a4a" stroke-width="1.5" stroke-linecap="butt"/>
<line x1="1437" y1="354.9" x2="1440.8" y2="354.9" stroke="#4a4a4a" stroke-width="1.5" stroke-linecap="butt"/>
<line x1="1105.1" y1="404" x2="1101.3" y2="404" stroke="#4a4a4a" stroke-width="1.5" stroke-linecap="butt"/>
<line x1="1437" y1="404" x2="1440.8" y2="404" stroke="#4a4a4a" stroke-width="1.5" stroke-linecap="butt"/>
<line x1="1105.1" y1="453.5" x2="1101.3" y2="453.5" stroke="#4a4a4a" stroke-width="1.5" stroke-linecap="butt"/>
<line x1="1437" y1="453.5" x2="1440.8" y2="453.5" stroke="#4a4a4a" stroke-width="1.5" stroke-linecap="butt"/>
<line x1="1105.1" y1="503.4" x2="1101.3" y2="503.4" stroke="#4a4a4a" stroke-width="1.5" stroke-linecap="butt"/>
<line x1="1437" y1="503.4" x2="1440.8" y2="503.4" stroke="#4a4a4a" stroke-width="1.5" stroke-linecap="butt"/>
<line x1="1105.1" y1="552.7" x2="1101.3" y2="552.7" stroke="#4a4a4a" stroke-width="1.5" stroke-linecap="butt"/>
<line x1="1437" y1="552.7" x2="1440.8" y2="552.7" stroke="#4a4a4a" stroke-width="1.5" stroke-linecap="butt"/>
<g transform="translate(1033.45,364.44) scale(1.0029,1)"><text font-size="26.2" font-weight="normal" fill="#000">0.15</text><rect x="23.16" y="-2.88" width="5.11" height="3.93" fill="#fff"/><rect x="30.76" y="-2.88" width="4.85" height="3.93" fill="#fff"/></g>
<g transform="translate(1040.61,413.54) scale(1.0426,1)"><text font-size="26.2" font-weight="normal" fill="#000">0.1</text><rect x="23.16" y="-2.88" width="5.11" height="3.93" fill="#fff"/><rect x="30.76" y="-2.88" width="4.85" height="3.93" fill="#fff"/></g>
<g transform="translate(1033.46,463.04) scale(0.9927,1)"><text font-size="26.2" font-weight="normal" fill="#000">0.05</text></g>
<g transform="translate(1047.58,512.94) scale(1.0688,1)"><text font-size="26.2" font-weight="normal" fill="#000">0</text></g>
<g transform="translate(1030.06,562.24) scale(1.0556,1)"><text font-size="26.2" font-weight="normal" fill="#000">-0.05</text></g>
<g transform="translate(1147.78,626.94) scale(1.0573,1)"><text font-size="26.2" font-weight="normal" fill="#000">NS</text></g>
<g transform="translate(1211.05,626.93) scale(1.0775,1)"><text font-size="26.57" font-weight="normal" fill="#000">5</text></g>
<g transform="translate(1256.32,626.94) scale(0.9983,1)"><text font-size="26.2" font-weight="normal" fill="#000">10</text><rect x="1.31" y="-2.88" width="5.11" height="3.93" fill="#fff"/><rect x="8.91" y="-2.88" width="4.85" height="3.93" fill="#fff"/></g>
<g transform="translate(1307.54,626.94) scale(1.0404,1)"><text font-size="26.2" font-weight="normal" fill="#000">20</text></g>
<g transform="translate(1360.53,626.94) scale(1.0155,1)"><text font-size="26.2" font-weight="normal" fill="#000">40</text></g>
<g transform="translate(996.65,351.65) scale(0.7017,1)"><text font-size="42.75" font-weight="normal" fill="#000" style="stroke-width:1.5px">F</text></g>
<text transform="translate(1012.42,537.49) rotate(-90) scale(1.0052,1)" font-size="27.76" font-weight="normal" fill="#000">Correlations</text>
<g transform="translate(1173.57,397.47) scale(0.9233,1)"><text font-size="23.38" font-weight="normal" fill="#000" style="stroke-width:0.4px">NS</text></g>
<g transform="translate(1245.3,374.46) scale(0.9043,1)"><text font-size="23.52" font-weight="normal" fill="#000" style="stroke-width:0.4px">NS</text></g>
<g transform="translate(1227.35,661.9) scale(0.9107,1)"><text font-size="27.39" font-weight="normal" fill="#000" style="stroke-width:0.45px">tACS Hz</text></g>
<line x1="1165.1" y1="404.1" x2="1211.9" y2="404.1" stroke="#000" stroke-width="3.4" stroke-linecap="butt"/>
<polyline points="1219.3,402.2 1219.3,382.8 1298.3,382.8 1298.3,395.5" fill="none" stroke="#000" stroke-width="3.4" stroke-linejoin="miter"/>
<line x1="1257.6" y1="396.3" x2="1364.1" y2="396.3" stroke="#000" stroke-width="3.4" stroke-linecap="butt"/>
<path d="M362.8,78.1C363,73.1 363.3,69.9 364.6,66.1C365.9,62.3 368.2,57.8 370.6,55.2C373,52.6 376.4,51.6 379,50.4C381.6,49.2 383.5,48.2 386.3,48C389.1,47.8 392.7,48.6 395.9,49.2C399.1,49.8 402.3,50.4 405.5,51.6C408.7,52.8 412.4,54.2 415.2,56.4C418,58.6 420,62.9 422.4,64.9C424.8,66.9 427.2,66.7 429.6,68.5C432,70.3 435.4,72.9 436.8,75.7C438.2,78.5 438.8,82.9 438,85.3C437.2,87.7 434.2,89.5 432,90.1C429.8,90.7 426.6,87.9 424.8,88.9C423,89.9 422.1,93.6 421.3,96C420.5,98.4 420.7,101.1 420.1,103.3C419.5,105.5 419.2,107.5 417.7,109.3C416.2,111.1 413.5,113.2 411.1,114.1C408.7,115 405.8,115.1 403.3,114.7C400.8,114.3 398.8,112.9 396.1,111.7C393.4,110.5 390.1,108.4 387.1,107.5C384.1,106.6 381,107.2 378,106.3C375,105.4 371.4,103.8 369,102.1C366.6,100.4 364.6,100 363.6,96C362.6,92 362.6,83.1 362.8,78.1Z" fill="#6c6c6c" stroke="#1e1e1e" stroke-width="1.8"/>
<path d="M371.9,59.1C371.6,60.6 370.7,65.1 370,68.1C369.3,71.1 368,75.6 367.6,77.1" fill="none" stroke="#a6a6a6" stroke-width="3.4" stroke-linecap="round"/>
<path d="M373.1,72.3C373.9,72.8 376.9,73.8 377.9,75.3C378.9,76.8 378.9,80.3 379.1,81.3" fill="none" stroke="#a6a6a6" stroke-width="3.4" stroke-linecap="round"/>
<path d="M366,87C367.5,86.3 373.5,83.5 375,82.8" fill="none" stroke="#a6a6a6" stroke-width="3.4" stroke-linecap="round"/>
<path d="M368,96C369.3,96.7 373,98.8 376,100C379,101.2 384.3,102.5 386,103" fill="none" stroke="#a6a6a6" stroke-width="3.4" stroke-linecap="round"/>
<path d="M400,54C400.3,55.3 401.3,59 402,62C402.7,65 403.7,70.3 404,72" fill="none" stroke="#a6a6a6" stroke-width="3.4" stroke-linecap="round"/>
<path d="M410,57C410.3,58.5 411.5,62.8 412,66C412.5,69.2 412.8,74.3 413,76" fill="none" stroke="#a6a6a6" stroke-width="3.4" stroke-linecap="round"/>
<path d="M419,66C419.3,67.7 420.7,74.3 421,76" fill="none" stroke="#a6a6a6" stroke-width="3.4" stroke-linecap="round"/>
<path d="M426,74C426.5,75.7 428.5,82.3 429,84" fill="none" stroke="#a6a6a6" stroke-width="3.4" stroke-linecap="round"/>
<path d="M431,76C431.5,77.7 433.5,84.3 434,86" fill="none" stroke="#a6a6a6" stroke-width="3.4" stroke-linecap="round"/>
<path d="M408,93C409.3,93.5 414.7,95.5 416,96" fill="none" stroke="#a6a6a6" stroke-width="3.4" stroke-linecap="round"/>
<path d="M372,90C373.3,90.3 378.7,91.7 380,92" fill="none" stroke="#a6a6a6" stroke-width="3.4" stroke-linecap="round"/>
<path d="M386.3,50.6C386,52 385,56.2 384.5,59.1C384,62 383.7,65.4 383.3,68.1C382.9,70.8 382.5,72.9 382.1,75.3C381.7,77.7 381.1,81.4 380.9,82.6" fill="none" stroke="#eeeeee" stroke-width="2.1" stroke-linecap="round"/>
<path d="M384.5,59.1C385.7,58.6 390.1,57.2 391.7,56C393.3,54.8 393.7,52.5 394.1,51.8" fill="none" stroke="#eeeeee" stroke-width="2.1" stroke-linecap="round"/>
<path d="M383.3,68.1C384.3,67.9 387.1,67.6 389.3,66.9C391.5,66.2 395.4,64.4 396.6,63.9" fill="none" stroke="#eeeeee" stroke-width="2.1" stroke-linecap="round"/>
<path d="M382.1,75.3C383.3,75.7 387.1,76.5 389.3,77.7C391.5,78.9 394.3,81.8 395.3,82.6" fill="none" stroke="#eeeeee" stroke-width="2.1" stroke-linecap="round"/>
<path d="M394.1,53C394.3,55.5 394.8,63.6 395.3,68.1C395.8,72.6 396.9,78.1 397.2,80.1" fill="none" stroke="#eeeeee" stroke-width="2.1" stroke-linecap="round"/>
<path d="M378,84C379.2,85.3 382.7,89.8 385.3,91.8C387.9,93.8 390.9,94.7 393.7,96C396.5,97.3 399.7,98.3 402.1,99.6C404.5,100.9 406.1,102.8 408.1,103.9C410.1,105 413.1,105.9 414.1,106.3" fill="none" stroke="#eeeeee" stroke-width="2.1" stroke-linecap="round"/>
<path d="M386.5,79.2C387.5,79.8 390.4,81.7 392.5,82.8C394.6,83.9 396.9,84.8 399.1,85.8C401.3,86.8 403.2,87.8 405.7,88.8C408.2,89.8 412.7,91.3 414.1,91.8" fill="none" stroke="#eeeeee" stroke-width="2.1" stroke-linecap="round"/>
<path d="M378,97.8C379.5,98.7 384.1,102 387.1,103.3C390.1,104.6 393.6,104.7 396.1,105.7C398.6,106.7 401.1,108.7 402.1,109.3" fill="none" stroke="#eeeeee" stroke-width="2.1" stroke-linecap="round"/>
<path d="M404,56C404.3,57.7 405.5,62.3 406,66C406.5,69.7 406.5,75 407,78C407.5,81 408.7,83 409,84" fill="none" stroke="#eeeeee" stroke-width="2.1" stroke-linecap="round"/>
<path d="M414,60C414.3,61.7 415.5,66.3 416,70C416.5,73.7 416.8,80 417,82" fill="none" stroke="#eeeeee" stroke-width="2.1" stroke-linecap="round"/>
<path d="M424,72C424.2,73.7 424.8,80.3 425,82" fill="none" stroke="#eeeeee" stroke-width="2.1" stroke-linecap="round"/>
<path d="M398,70C399,70.7 403,73.3 404,74" fill="none" stroke="#eeeeee" stroke-width="2.1" stroke-linecap="round"/>
<circle cx="376" cy="65" r="4.6" fill="#e2351c"/>
<ellipse cx="376.5" cy="64.6" rx="2" ry="2.6" fill="#f7e04a"/>
<defs><clipPath id="clipC"><path d="M837.3,84.9 L837.4,82.5 L838.7,80.3 L839.8,78.1 L839.8,75.7 L839.8,73.2 L841,71.1 L842.9,69.3 L844,67.2 L844.3,64.7 L845.4,62.5 L847.5,61 L849.5,59.6 L850.5,57.4 L851.6,55.1 L853.6,53.7 L856.1,52.9 L858,51.4 L859.4,49.3 L861.3,47.7 L863.8,47.3 L866.3,46.8 L868.2,45.3 L870.1,43.6 L872.6,43.2 L875.2,43.5 L877.5,43 L879.7,41.6 L882.1,41 L884.6,41.7 L887,42.3 L889.4,41.7 L891.9,41 L894.3,41.6 L896.5,43 L898.8,43.5 L901.4,43.2 L903.9,43.6 L905.8,45.3 L907.7,46.8 L910.2,47.3 L912.7,47.7 L914.6,49.3 L916,51.4 L917.9,52.9 L920.4,53.7 L922.4,55.1 L923.5,57.4 L924.5,59.6 L926.5,61 L928.6,62.5 L929.7,64.7 L930,67.2 L931.1,69.3 L933,71.1 L934.2,73.2 L934.2,75.7 L934.2,78.1 L935.3,80.3 L936.6,82.5 L936.7,84.9 L935.8,86.3 L932.5,92.9 L925.9,97 L916,97.8 L911,101.2 L910.2,107.8 L906,114.4 L899.4,116.9 L891.2,115.2 L882.9,107.8 L874.6,102 L866,101.5 L855,100.5 L845,99 L839.5,94Z"/></clipPath><clipPath id="clipE"><path d="M1332.8,91.5 L1332.6,89.4 L1333.6,87.4 L1334.7,85.5 L1334.7,83.3 L1334.4,81.1 L1335.1,79.1 L1336.7,77.4 L1337.8,75.6 L1337.9,73.4 L1338.3,71.2 L1339.8,69.6 L1341.7,68.3 L1342.7,66.5 L1343.2,64.2 L1344.4,62.5 L1346.5,61.5 L1348.3,60.4 L1349.4,58.5 L1350.5,56.5 L1352.4,55.4 L1354.6,54.9 L1356.4,53.8 L1357.8,52 L1359.4,50.5 L1361.6,50.2 L1363.9,50 L1365.7,48.9 L1367.4,47.4 L1369.4,46.8 L1371.7,47.1 L1373.8,47.1 L1375.8,46 L1377.8,45 L1380,45.3 L1382.1,46.1 L1384.2,46 L1386.4,45.2 L1388.6,45.1 L1390.6,46.2 L1392.5,47.2 L1394.7,47.1 L1397,46.8 L1399,47.6 L1400.6,49.2 L1402.5,50.1 L1404.8,50.2 L1406.9,50.7 L1408.5,52.3 L1409.8,54.1 L1411.8,55 L1414,55.5 L1415.7,56.8 L1416.7,58.8 L1417.9,60.6 L1419.9,61.6 L1421.9,62.7 L1422.9,64.6 L1423.4,66.8 L1424.6,68.5 L1426.5,69.9 L1427.8,71.5 L1428.1,73.8 L1428.3,75.9 L1429.6,77.7 L1431.1,79.4 L1431.6,81.5 L1431.2,83.7 L1431.4,85.8 L1432.6,87.7 L1433.5,89.7 L1432.1,92.2 L1428.3,98.2 L1416.3,101.2 L1404.3,102.7 L1401.3,107.2 L1402,114.7 L1396.7,119.3 L1387.7,120 L1380.2,113.2 L1372.7,107.2 L1369.7,102.5 L1357.6,101.5 L1344.1,102.5 L1336.6,101.8Z"/></clipPath><clipPath id="clipCb"><ellipse cx="857" cy="112" rx="14.2" ry="12"/></clipPath><clipPath id="clipEb"><ellipse cx="1356.5" cy="113.5" rx="17.7" ry="13.3"/></clipPath></defs>
<ellipse cx="857" cy="112" rx="14.2" ry="12" fill="#8a8a8a" stroke="#333" stroke-width="1.3"/>
<path d="M843,104 Q857,101.5 872,104.5" fill="none" stroke="#cfcfcf" stroke-width="1.3" clip-path="url(#clipCb)"/>
<path d="M843,108 Q857,105.5 872,108.5" fill="none" stroke="#cfcfcf" stroke-width="1.3" clip-path="url(#clipCb)"/>
<path d="M843,112 Q857,109.5 872,112.5" fill="none" stroke="#cfcfcf" stroke-width="1.3" clip-path="url(#clipCb)"/>
<path d="M843,116 Q857,113.5 872,116.5" fill="none" stroke="#cfcfcf" stroke-width="1.3" clip-path="url(#clipCb)"/>
<path d="M843,120 Q857,117.5 872,120.5" fill="none" stroke="#cfcfcf" stroke-width="1.3" clip-path="url(#clipCb)"/>
<path d="M837.3,84.9 L837.4,82.5 L838.7,80.3 L839.8,78.1 L839.8,75.7 L839.8,73.2 L841,71.1 L842.9,69.3 L844,67.2 L844.3,64.7 L845.4,62.5 L847.5,61 L849.5,59.6 L850.5,57.4 L851.6,55.1 L853.6,53.7 L856.1,52.9 L858,51.4 L859.4,49.3 L861.3,47.7 L863.8,47.3 L866.3,46.8 L868.2,45.3 L870.1,43.6 L872.6,43.2 L875.2,43.5 L877.5,43 L879.7,41.6 L882.1,41 L884.6,41.7 L887,42.3 L889.4,41.7 L891.9,41 L894.3,41.6 L896.5,43 L898.8,43.5 L901.4,43.2 L903.9,43.6 L905.8,45.3 L907.7,46.8 L910.2,47.3 L912.7,47.7 L914.6,49.3 L916,51.4 L917.9,52.9 L920.4,53.7 L922.4,55.1 L923.5,57.4 L924.5,59.6 L926.5,61 L928.6,62.5 L929.7,64.7 L930,67.2 L931.1,69.3 L933,71.1 L934.2,73.2 L934.2,75.7 L934.2,78.1 L935.3,80.3 L936.6,82.5 L936.7,84.9 L935.8,86.3 L932.5,92.9 L925.9,97 L916,97.8 L911,101.2 L910.2,107.8 L906,114.4 L899.4,116.9 L891.2,115.2 L882.9,107.8 L874.6,102 L866,101.5 L855,100.5 L845,99 L839.5,94Z" fill="#8e8e8e"/>
<path d="M852.1,85.2C853.5,83.7 853,80.4 853.8,78.2C854.7,75.9 855.8,73.7 857.1,71.7C858.4,69.7 859.9,67.7 861.6,66C863.3,64.3 865.2,62.7 867.3,61.3C869.3,60 871.5,58.9 873.8,58C876.1,57.1 878.5,56.4 880.9,56C883.3,55.5 885.8,55.4 888.2,55.5C890.7,55.5 893.2,55.9 895.5,56.5C897.9,57 900.3,57.9 902.5,58.9C904.7,60 906.8,61.3 908.7,62.8C910.6,64.2 912.5,66 914,67.8C915.6,69.6 917,71.7 918.2,73.8C919.3,75.9 921.6,77.8 920.9,80.5C920.2,83.2 916.5,87.2 914,90C911.5,92.8 908.3,95 906,97C903.7,99 902.3,101.2 900,102C897.7,102.8 895,102.8 892,102C889,101.2 886,98.7 882,97C878,95.3 873,93.2 868,92C863,90.8 855.8,90.8 852,90C848.2,89.2 845,87.8 845,87C845,86.2 850.6,86.7 852.1,85.2Z" fill="#dedede" clip-path="url(#clipC)"/>
<line x1="919" y1="85.6" x2="932.1" y2="83.8" stroke="#e8e8e8" stroke-width="2.0" stroke-linecap="round" clip-path="url(#clipC)"/>
<line x1="921.2" y1="81.5" x2="935.4" y2="77.9" stroke="#2c2c2c" stroke-width="2.4" stroke-linecap="round" clip-path="url(#clipC)"/>
<line x1="917.3" y1="78.8" x2="929.7" y2="74.3" stroke="#e8e8e8" stroke-width="2.0" stroke-linecap="round" clip-path="url(#clipC)"/>
<line x1="918.5" y1="74.4" x2="931.6" y2="67.8" stroke="#2c2c2c" stroke-width="2.4" stroke-linecap="round" clip-path="url(#clipC)"/>
<line x1="914.1" y1="72.6" x2="925.1" y2="65.5" stroke="#e8e8e8" stroke-width="2.0" stroke-linecap="round" clip-path="url(#clipC)"/>
<line x1="914.2" y1="68" x2="925.5" y2="58.8" stroke="#2c2c2c" stroke-width="2.4" stroke-linecap="round" clip-path="url(#clipC)"/>
<line x1="909.5" y1="67.3" x2="918.7" y2="58" stroke="#e8e8e8" stroke-width="2.0" stroke-linecap="round" clip-path="url(#clipC)"/>
<line x1="908.6" y1="62.7" x2="917.7" y2="51.3" stroke="#2c2c2c" stroke-width="2.4" stroke-linecap="round" clip-path="url(#clipC)"/>
<line x1="903.9" y1="63" x2="910.8" y2="52" stroke="#e8e8e8" stroke-width="2.0" stroke-linecap="round" clip-path="url(#clipC)"/>
<line x1="902" y1="58.7" x2="908.3" y2="45.7" stroke="#2c2c2c" stroke-width="2.4" stroke-linecap="round" clip-path="url(#clipC)"/>
<line x1="897.5" y1="60" x2="901.8" y2="47.8" stroke="#e8e8e8" stroke-width="2.0" stroke-linecap="round" clip-path="url(#clipC)"/>
<line x1="894.7" y1="56.3" x2="897.9" y2="42.2" stroke="#2c2c2c" stroke-width="2.4" stroke-linecap="round" clip-path="url(#clipC)"/>
<line x1="890.6" y1="58.5" x2="892" y2="45.6" stroke="#e8e8e8" stroke-width="2.0" stroke-linecap="round" clip-path="url(#clipC)"/>
<line x1="887" y1="55.4" x2="887" y2="41" stroke="#2c2c2c" stroke-width="2.4" stroke-linecap="round" clip-path="url(#clipC)"/>
<line x1="883.4" y1="58.5" x2="882" y2="45.6" stroke="#e8e8e8" stroke-width="2.0" stroke-linecap="round" clip-path="url(#clipC)"/>
<line x1="879.3" y1="56.3" x2="876.1" y2="42.2" stroke="#2c2c2c" stroke-width="2.4" stroke-linecap="round" clip-path="url(#clipC)"/>
<line x1="876.5" y1="60" x2="872.2" y2="47.8" stroke="#e8e8e8" stroke-width="2.0" stroke-linecap="round" clip-path="url(#clipC)"/>
<line x1="872" y1="58.7" x2="865.7" y2="45.7" stroke="#2c2c2c" stroke-width="2.4" stroke-linecap="round" clip-path="url(#clipC)"/>
<line x1="870.1" y1="63" x2="863.2" y2="52" stroke="#e8e8e8" stroke-width="2.0" stroke-linecap="round" clip-path="url(#clipC)"/>
<line x1="865.4" y1="62.7" x2="856.3" y2="51.3" stroke="#2c2c2c" stroke-width="2.4" stroke-linecap="round" clip-path="url(#clipC)"/>
<line x1="864.5" y1="67.3" x2="855.3" y2="58" stroke="#e8e8e8" stroke-width="2.0" stroke-linecap="round" clip-path="url(#clipC)"/>
<line x1="859.8" y1="68" x2="848.5" y2="58.8" stroke="#2c2c2c" stroke-width="2.4" stroke-linecap="round" clip-path="url(#clipC)"/>
<line x1="859.9" y1="72.6" x2="848.9" y2="65.5" stroke="#e8e8e8" stroke-width="2.0" stroke-linecap="round" clip-path="url(#clipC)"/>
<line x1="855.5" y1="74.4" x2="842.4" y2="67.8" stroke="#2c2c2c" stroke-width="2.4" stroke-linecap="round" clip-path="url(#clipC)"/>
<line x1="856.7" y1="78.8" x2="844.3" y2="74.3" stroke="#e8e8e8" stroke-width="2.0" stroke-linecap="round" clip-path="url(#clipC)"/>
<line x1="852.8" y1="81.5" x2="838.6" y2="77.9" stroke="#2c2c2c" stroke-width="2.4" stroke-linecap="round" clip-path="url(#clipC)"/>
<line x1="855" y1="85.6" x2="841.9" y2="83.8" stroke="#e8e8e8" stroke-width="2.0" stroke-linecap="round" clip-path="url(#clipC)"/>
<path d="M850,95 Q865,97 878,101 Q892,108 906,110" fill="none" stroke="#e6e6e6" stroke-width="2" clip-path="url(#clipC)"/>
<path d="M852,99 Q866,101 876,106" fill="none" stroke="#3a3a3a" stroke-width="1.6" clip-path="url(#clipC)"/>
<path d="M874.6,73C876.2,71.1 884.3,70.6 889.5,71.4C894.7,72.2 902.4,75.2 906,78C909.6,80.8 911.5,84.9 911,87.9C910.5,90.9 906.3,95.4 902.7,96.2C899.1,97 893.4,95.1 889.5,92.9C885.6,90.7 882.1,86.3 879.6,83C877.1,79.7 873,74.9 874.6,73Z" fill="#404040"/>
<line x1="880" y1="76" x2="900" y2="92" stroke="#6a6a6a" stroke-width="1.2"/>
<line x1="886" y1="74" x2="905" y2="88" stroke="#6a6a6a" stroke-width="1.2"/>
<line x1="878" y1="80" x2="895" y2="94" stroke="#6a6a6a" stroke-width="1.2"/>
<path d="M837.3,84.9 L837.4,82.5 L838.7,80.3 L839.8,78.1 L839.8,75.7 L839.8,73.2 L841,71.1 L842.9,69.3 L844,67.2 L844.3,64.7 L845.4,62.5 L847.5,61 L849.5,59.6 L850.5,57.4 L851.6,55.1 L853.6,53.7 L856.1,52.9 L858,51.4 L859.4,49.3 L861.3,47.7 L863.8,47.3 L866.3,46.8 L868.2,45.3 L870.1,43.6 L872.6,43.2 L875.2,43.5 L877.5,43 L879.7,41.6 L882.1,41 L884.6,41.7 L887,42.3 L889.4,41.7 L891.9,41 L894.3,41.6 L896.5,43 L898.8,43.5 L901.4,43.2 L903.9,43.6 L905.8,45.3 L907.7,46.8 L910.2,47.3 L912.7,47.7 L914.6,49.3 L916,51.4 L917.9,52.9 L920.4,53.7 L922.4,55.1 L923.5,57.4 L924.5,59.6 L926.5,61 L928.6,62.5 L929.7,64.7 L930,67.2 L931.1,69.3 L933,71.1 L934.2,73.2 L934.2,75.7 L934.2,78.1 L935.3,80.3 L936.6,82.5 L936.7,84.9 L935.8,86.3 L932.5,92.9 L925.9,97 L916,97.8 L911,101.2 L910.2,107.8 L906,114.4 L899.4,116.9 L891.2,115.2 L882.9,107.8 L874.6,102 L866,101.5 L855,100.5 L845,99 L839.5,94Z" fill="none" stroke="#2a2a2a" stroke-width="1.5"/>
<circle cx="863.2" cy="58.8" r="3.3" fill="#e4461e"/><circle cx="863.4" cy="58.8" r="1.4" fill="#f59a2a"/>
<ellipse cx="905.3" cy="63.7" rx="4.2" ry="3.4" fill="#e4461e"/><circle cx="905.6" cy="63.5" r="1.6" fill="#f3862a"/>
<ellipse cx="1356.5" cy="113.5" rx="17.7" ry="13.3" fill="#8c8c8c" stroke="#333" stroke-width="1.3"/>
<line x1="1356.5" y1="110" x2="1339.6" y2="115.5" stroke="#e6e6e6" stroke-width="1.6" clip-path="url(#clipEb)"/>
<line x1="1356.5" y1="110" x2="1343.1" y2="120.7" stroke="#e6e6e6" stroke-width="1.6" clip-path="url(#clipEb)"/>
<line x1="1356.5" y1="110" x2="1348.6" y2="124.4" stroke="#e6e6e6" stroke-width="1.6" clip-path="url(#clipEb)"/>
<line x1="1356.5" y1="110" x2="1355.2" y2="126" stroke="#e6e6e6" stroke-width="1.6" clip-path="url(#clipEb)"/>
<line x1="1356.5" y1="110" x2="1362.1" y2="125.2" stroke="#e6e6e6" stroke-width="1.6" clip-path="url(#clipEb)"/>
<line x1="1356.5" y1="110" x2="1368.1" y2="122.3" stroke="#e6e6e6" stroke-width="1.6" clip-path="url(#clipEb)"/>
<line x1="1356.5" y1="110" x2="1372.4" y2="117.5" stroke="#e6e6e6" stroke-width="1.6" clip-path="url(#clipEb)"/>
<line x1="1356.5" y1="110" x2="1374.4" y2="111.7" stroke="#e6e6e6" stroke-width="1.6" clip-path="url(#clipEb)"/>
<path d="M1332.8,91.5 L1332.6,89.4 L1333.6,87.4 L1334.7,85.5 L1334.7,83.3 L1334.4,81.1 L1335.1,79.1 L1336.7,77.4 L1337.8,75.6 L1337.9,73.4 L1338.3,71.2 L1339.8,69.6 L1341.7,68.3 L1342.7,66.5 L1343.2,64.2 L1344.4,62.5 L1346.5,61.5 L1348.3,60.4 L1349.4,58.5 L1350.5,56.5 L1352.4,55.4 L1354.6,54.9 L1356.4,53.8 L1357.8,52 L1359.4,50.5 L1361.6,50.2 L1363.9,50 L1365.7,48.9 L1367.4,47.4 L1369.4,46.8 L1371.7,47.1 L1373.8,47.1 L1375.8,46 L1377.8,45 L1380,45.3 L1382.1,46.1 L1384.2,46 L1386.4,45.2 L1388.6,45.1 L1390.6,46.2 L1392.5,47.2 L1394.7,47.1 L1397,46.8 L1399,47.6 L1400.6,49.2 L1402.5,50.1 L1404.8,50.2 L1406.9,50.7 L1408.5,52.3 L1409.8,54.1 L1411.8,55 L1414,55.5 L1415.7,56.8 L1416.7,58.8 L1417.9,60.6 L1419.9,61.6 L1421.9,62.7 L1422.9,64.6 L1423.4,66.8 L1424.6,68.5 L1426.5,69.9 L1427.8,71.5 L1428.1,73.8 L1428.3,75.9 L1429.6,77.7 L1431.1,79.4 L1431.6,81.5 L1431.2,83.7 L1431.4,85.8 L1432.6,87.7 L1433.5,89.7 L1432.1,92.2 L1428.3,98.2 L1416.3,101.2 L1404.3,102.7 L1401.3,107.2 L1402,114.7 L1396.7,119.3 L1387.7,120 L1380.2,113.2 L1372.7,107.2 L1369.7,102.5 L1357.6,101.5 L1344.1,102.5 L1336.6,101.8Z" fill="#8e8e8e"/>
<path d="M1343,95C1342.1,93 1343.5,88.1 1344.4,84.9C1345.3,81.6 1346.6,78.3 1348.4,75.4C1350.1,72.5 1352.3,69.7 1354.7,67.3C1357.2,64.9 1360,62.7 1363,61.1C1366,59.4 1369.3,58 1372.6,57.1C1376,56.3 1379.5,55.8 1383,55.8C1386.5,55.8 1390,56.3 1393.4,57.1C1396.7,58 1400,59.4 1403,61.1C1406,62.7 1408.8,64.9 1411.3,67.3C1413.7,69.7 1415.9,72.5 1417.6,75.4C1419.4,78.3 1420.7,81.6 1421.6,84.9C1422.5,88.1 1424.9,93 1423,95C1421.1,97 1417.2,96.5 1410,97C1402.8,97.5 1390,98 1380,98C1370,98 1356.2,97.5 1350,97C1343.8,96.5 1343.9,97 1343,95Z" fill="#e8e8e8" clip-path="url(#clipE)"/>
<line x1="1421.8" y1="91" x2="1430.2" y2="90.1" stroke="#f0f0f0" stroke-width="2.0" stroke-linecap="round" clip-path="url(#clipE)"/>
<line x1="1423.7" y1="86.8" x2="1433" y2="85" stroke="#2c2c2c" stroke-width="1.7" stroke-linecap="round" clip-path="url(#clipE)"/>
<line x1="1420.3" y1="83.7" x2="1428.4" y2="81.2" stroke="#f0f0f0" stroke-width="2.0" stroke-linecap="round" clip-path="url(#clipE)"/>
<line x1="1421.3" y1="79.2" x2="1430" y2="75.6" stroke="#2c2c2c" stroke-width="1.7" stroke-linecap="round" clip-path="url(#clipE)"/>
<line x1="1417.3" y1="76.8" x2="1424.8" y2="72.9" stroke="#f0f0f0" stroke-width="2.0" stroke-linecap="round" clip-path="url(#clipE)"/>
<line x1="1417.4" y1="72.3" x2="1425.3" y2="67.1" stroke="#2c2c2c" stroke-width="1.7" stroke-linecap="round" clip-path="url(#clipE)"/>
<line x1="1413.1" y1="70.6" x2="1419.6" y2="65.3" stroke="#f0f0f0" stroke-width="2.0" stroke-linecap="round" clip-path="url(#clipE)"/>
<line x1="1412.2" y1="66.1" x2="1418.9" y2="59.5" stroke="#2c2c2c" stroke-width="1.7" stroke-linecap="round" clip-path="url(#clipE)"/>
<line x1="1407.6" y1="65.4" x2="1413" y2="58.9" stroke="#f0f0f0" stroke-width="2.0" stroke-linecap="round" clip-path="url(#clipE)"/>
<line x1="1406" y1="61.1" x2="1411.2" y2="53.4" stroke="#2c2c2c" stroke-width="1.7" stroke-linecap="round" clip-path="url(#clipE)"/>
<line x1="1401.3" y1="61.3" x2="1405.3" y2="53.9" stroke="#f0f0f0" stroke-width="2.0" stroke-linecap="round" clip-path="url(#clipE)"/>
<line x1="1398.8" y1="57.4" x2="1402.4" y2="48.8" stroke="#2c2c2c" stroke-width="1.7" stroke-linecap="round" clip-path="url(#clipE)"/>
<line x1="1394.3" y1="58.4" x2="1396.7" y2="50.4" stroke="#f0f0f0" stroke-width="2.0" stroke-linecap="round" clip-path="url(#clipE)"/>
<line x1="1391.1" y1="55.1" x2="1392.9" y2="46" stroke="#2c2c2c" stroke-width="1.7" stroke-linecap="round" clip-path="url(#clipE)"/>
<line x1="1386.8" y1="57" x2="1387.6" y2="48.7" stroke="#f0f0f0" stroke-width="2.0" stroke-linecap="round" clip-path="url(#clipE)"/>
<line x1="1383" y1="54.3" x2="1383" y2="45" stroke="#2c2c2c" stroke-width="1.7" stroke-linecap="round" clip-path="url(#clipE)"/>
<line x1="1379.2" y1="57" x2="1378.4" y2="48.7" stroke="#f0f0f0" stroke-width="2.0" stroke-linecap="round" clip-path="url(#clipE)"/>
<line x1="1374.9" y1="55.1" x2="1373.1" y2="46" stroke="#2c2c2c" stroke-width="1.7" stroke-linecap="round" clip-path="url(#clipE)"/>
<line x1="1371.7" y1="58.4" x2="1369.3" y2="50.4" stroke="#f0f0f0" stroke-width="2.0" stroke-linecap="round" clip-path="url(#clipE)"/>
<line x1="1367.2" y1="57.4" x2="1363.6" y2="48.8" stroke="#2c2c2c" stroke-width="1.7" stroke-linecap="round" clip-path="url(#clipE)"/>
<line x1="1364.7" y1="61.3" x2="1360.7" y2="53.9" stroke="#f0f0f0" stroke-width="2.0" stroke-linecap="round" clip-path="url(#clipE)"/>
<line x1="1360" y1="61.1" x2="1354.8" y2="53.4" stroke="#2c2c2c" stroke-width="1.7" stroke-linecap="round" clip-path="url(#clipE)"/>
<line x1="1358.4" y1="65.4" x2="1353" y2="58.9" stroke="#f0f0f0" stroke-width="2.0" stroke-linecap="round" clip-path="url(#clipE)"/>
<line x1="1353.8" y1="66.1" x2="1347.1" y2="59.5" stroke="#2c2c2c" stroke-width="1.7" stroke-linecap="round" clip-path="url(#clipE)"/>
<line x1="1352.9" y1="70.6" x2="1346.4" y2="65.3" stroke="#f0f0f0" stroke-width="2.0" stroke-linecap="round" clip-path="url(#clipE)"/>
<line x1="1348.6" y1="72.3" x2="1340.7" y2="67.1" stroke="#2c2c2c" stroke-width="1.7" stroke-linecap="round" clip-path="url(#clipE)"/>
<line x1="1348.7" y1="76.8" x2="1341.2" y2="72.9" stroke="#f0f0f0" stroke-width="2.0" stroke-linecap="round" clip-path="url(#clipE)"/>
<line x1="1344.7" y1="79.2" x2="1336" y2="75.6" stroke="#2c2c2c" stroke-width="1.7" stroke-linecap="round" clip-path="url(#clipE)"/>
<line x1="1345.7" y1="83.7" x2="1337.6" y2="81.2" stroke="#f0f0f0" stroke-width="2.0" stroke-linecap="round" clip-path="url(#clipE)"/>
<line x1="1342.3" y1="86.8" x2="1333" y2="85" stroke="#2c2c2c" stroke-width="1.7" stroke-linecap="round" clip-path="url(#clipE)"/>
<line x1="1344.2" y1="91" x2="1335.8" y2="90.1" stroke="#f0f0f0" stroke-width="2.0" stroke-linecap="round" clip-path="url(#clipE)"/>
<ellipse cx="1395.2" cy="89.5" rx="8.3" ry="6" fill="#9a9a9a"/>
<path d="M1347,90 Q1356,88 1366,90" fill="none" stroke="#4a4a4a" stroke-width="2.5"/>
<path d="M1362,95 Q1376,96 1386,104 Q1394,110 1398,116" fill="none" stroke="#555" stroke-width="5" stroke-linecap="round" clip-path="url(#clipE)"/>
<path d="M1364,93 Q1378,93 1390,101" fill="none" stroke="#dcdcdc" stroke-width="1.5" clip-path="url(#clipE)"/>
<ellipse cx="1369.7" cy="82.4" rx="3.4" ry="4.8" fill="#fff" stroke="#333" stroke-width="1"/>
<path d="M1332.8,91.5 L1332.6,89.4 L1333.6,87.4 L1334.7,85.5 L1334.7,83.3 L1334.4,81.1 L1335.1,79.1 L1336.7,77.4 L1337.8,75.6 L1337.9,73.4 L1338.3,71.2 L1339.8,69.6 L1341.7,68.3 L1342.7,66.5 L1343.2,64.2 L1344.4,62.5 L1346.5,61.5 L1348.3,60.4 L1349.4,58.5 L1350.5,56.5 L1352.4,55.4 L1354.6,54.9 L1356.4,53.8 L1357.8,52 L1359.4,50.5 L1361.6,50.2 L1363.9,50 L1365.7,48.9 L1367.4,47.4 L1369.4,46.8 L1371.7,47.1 L1373.8,47.1 L1375.8,46 L1377.8,45 L1380,45.3 L1382.1,46.1 L1384.2,46 L1386.4,45.2 L1388.6,45.1 L1390.6,46.2 L1392.5,47.2 L1394.7,47.1 L1397,46.8 L1399,47.6 L1400.6,49.2 L1402.5,50.1 L1404.8,50.2 L1406.9,50.7 L1408.5,52.3 L1409.8,54.1 L1411.8,55 L1414,55.5 L1415.7,56.8 L1416.7,58.8 L1417.9,60.6 L1419.9,61.6 L1421.9,62.7 L1422.9,64.6 L1423.4,66.8 L1424.6,68.5 L1426.5,69.9 L1427.8,71.5 L1428.1,73.8 L1428.3,75.9 L1429.6,77.7 L1431.1,79.4 L1431.6,81.5 L1431.2,83.7 L1431.4,85.8 L1432.6,87.7 L1433.5,89.7 L1432.1,92.2 L1428.3,98.2 L1416.3,101.2 L1404.3,102.7 L1401.3,107.2 L1402,114.7 L1396.7,119.3 L1387.7,120 L1380.2,113.2 L1372.7,107.2 L1369.7,102.5 L1357.6,101.5 L1344.1,102.5 L1336.6,101.8Z" fill="none" stroke="#2a2a2a" stroke-width="1.5"/>
<ellipse cx="1344.1" cy="96" rx="4.2" ry="2.9" fill="#e2461e"/>
<line x1="263.3" y1="336" x2="267.6" y2="336" stroke="#d6d6d6" stroke-width="1.3"/><line x1="276.3" y1="336" x2="280.3" y2="336" stroke="#d6d6d6" stroke-width="1.3"/><line x1="294.5" y1="336" x2="300" y2="336" stroke="#d6d6d6" stroke-width="1.3"/><line x1="341.8" y1="336" x2="346.2" y2="336" stroke="#d6d6d6" stroke-width="1.3"/><line x1="806.9" y1="336" x2="810.7" y2="336" stroke="#cfcfcf" stroke-width="1.3"/><line x1="1234.6" y1="337.4" x2="1238.9" y2="337.4" stroke="#cfcfcf" stroke-width="1.3"/><line x1="1254.2" y1="337.4" x2="1259.6" y2="337.4" stroke="#cfcfcf" stroke-width="1.3"/><line x1="1272" y1="337.4" x2="1275.6" y2="337.4" stroke="#cfcfcf" stroke-width="1.3"/><line x1="1294.5" y1="337.4" x2="1302.6" y2="337.4" stroke="#a8a8a8" stroke-width="1.3"/><line x1="1305" y1="337.4" x2="1308" y2="337.4" stroke="#c8c8c8" stroke-width="1.3"/>
</svg>
</body></html>
